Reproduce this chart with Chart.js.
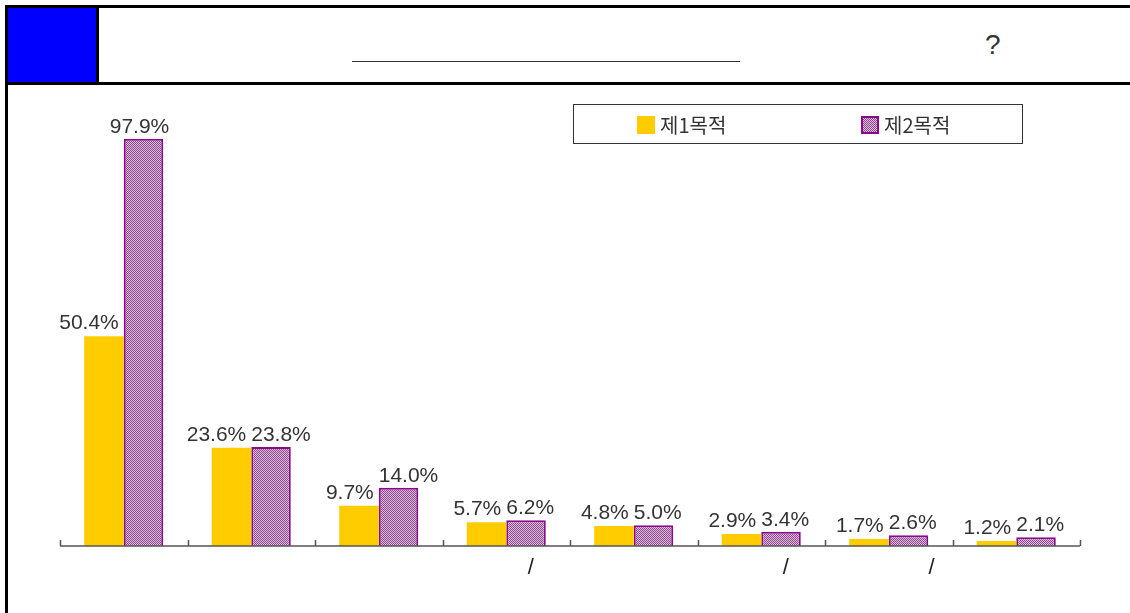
<!DOCTYPE html>
<html>
<head>
<meta charset="utf-8">
<script src="https://cdn.jsdelivr.net/npm/chart.js@4.4.0/dist/chart.umd.min.js"></script>
<style>
  html, body { margin: 0; padding: 0; background: #fff; width: 1130px; height: 613px; overflow: hidden; }
  .frame { position: absolute; left: 5px; top: 5px; width: 1150px; height: 640px; border: 3px solid #000; box-sizing: border-box; }
  .head { position: absolute; left: 5px; top: 5px; width: 1150px; height: 80px; border: 3px solid #000; box-sizing: border-box; }
  .blue { position: absolute; left: 8px; top: 8px; width: 88px; height: 74px; background: #0000ff; border-right: 3px solid #000; }
  .uline { position: absolute; left: 352px; top: 61px; width: 388px; border-top: 1px solid #333; }
  .q { position: absolute; left: 985px; top: 29px; font: 28px "Liberation Sans"; color: #333; }
  #wrap { position: absolute; left: 0; top: 0; width: 1130px; height: 613px; }
</style>
</head>
<body>
<div class="frame"></div>
<div class="head"></div>
<div class="blue"></div>
<div class="uline"></div>
<div class="q">?</div>
<div id="wrap"><canvas id="purposeChart" width="1130" height="613"></canvas></div>

<script>
// data
const categories = ['', '', '', '        /', '', '        /', '              /', ''];
const firstPurpose = [50.4, 23.6, 9.7, 5.7, 4.8, 2.9, 1.7, 1.2];
const secondPurpose = [97.9, 23.8, 14.0, 6.2, 5.0, 3.4, 2.6, 2.1];
const seriesNames = ['제1목적', '제2목적'];

const YELLOW = '#ffcc00';
const PURPLE = '#8b0a8b';

// fine purple / grey dither like the original fill
function hatchPattern() {
  const c = document.createElement('canvas');
  c.width = 4; c.height = 4;
  const g = c.getContext('2d');
  g.fillStyle = '#cfc8cf';
  g.fillRect(0, 0, 4, 4);
  g.fillStyle = '#9a3d9a';
  for (let y = 0; y < 4; y++) {
    for (let x = 0; x < 4; x++) {
      if ((x + y) % 2 === 0) g.fillRect(x, y, 1, 1);
    }
  }
  return g.createPattern(c, 'repeat');
}
const hatch = hatchPattern();

// axis line + upward ticks between categories
const axisPlugin = {
  id: 'axisLine',
  afterDatasetsDraw(chart) {
    const { ctx, chartArea, scales } = chart;
    const xs = scales.x;
    const y = chartArea.bottom;
    ctx.save();
    ctx.strokeStyle = '#555';
    ctx.lineWidth = 1.5;
    ctx.beginPath();
    ctx.moveTo(xs.left, y);
    ctx.lineTo(xs.right, y);
    for (let i = 0; i <= categories.length; i++) {
      const x = Math.round(xs.getPixelForValue(i - 0.5)) + 0.5;
      ctx.moveTo(x, y);
      ctx.lineTo(x, y - 6);
    }
    ctx.stroke();
    ctx.restore();
  }
};

// value labels above bars
const labelPlugin = {
  id: 'barLabels',
  afterDatasetsDraw(chart) {
    const { ctx } = chart;
    const m0 = chart.getDatasetMeta(0);
    const m1 = chart.getDatasetMeta(1);
    ctx.save();
    ctx.font = '21px "Liberation Sans"';
    ctx.fillStyle = '#333';
    ctx.textBaseline = 'alphabetic';
    m0.data.forEach((bar, i) => {
      const other = m1.data[i];
      const y0 = bar.y - 7;
      const y1 = other.y - 6;
      ctx.textAlign = 'right';
      ctx.fillText(firstPurpose[i].toFixed(1) + '%', bar.x + bar.width / 2 - 5, y0);
      if (Math.abs(y0 - y1) < 45) {
        ctx.textAlign = 'left';
        ctx.fillText(secondPurpose[i].toFixed(1) + '%', other.x - other.width / 2, y1);
      } else {
        ctx.textAlign = 'center';
        ctx.fillText(secondPurpose[i].toFixed(1) + '%', other.x - 4, y1);
      }
    });
    ctx.restore();
  }
};

// boxed legend at top right
const legendPlugin = {
  id: 'boxLegend',
  afterDraw(chart) {
    const { ctx } = chart;
    ctx.save();
    ctx.strokeStyle = '#333';
    ctx.lineWidth = 1;
    ctx.strokeRect(573.5, 104.5, 449, 39);
    const items = [
      { x: 637, fill: YELLOW, border: null },
      { x: 861, fill: hatch, border: PURPLE }
    ];
    ctx.font = '20px "Noto Sans CJK KR"';
    ctx.textBaseline = 'middle';
    ctx.textAlign = 'left';
    items.forEach((it, i) => {
      ctx.fillStyle = it.fill;
      ctx.fillRect(it.x, 116, 18, 18);
      if (it.border) {
        ctx.strokeStyle = it.border;
        ctx.lineWidth = 2;
        ctx.strokeRect(it.x + 1, 117, 16, 16);
      }
      ctx.fillStyle = '#333';
      ctx.fillText(chart.data.datasets[i].label, it.x + 23, 125);
    });
    ctx.restore();
  }
};

new Chart(document.getElementById('purposeChart').getContext('2d'), {
  type: 'bar',
  data: {
    labels: categories,
    datasets: [
      {
        label: seriesNames[0],
        data: firstPurpose,
        backgroundColor: YELLOW,
        borderWidth: 0,
        categoryPercentage: 0.62,
        barPercentage: 1.0
      },
      {
        label: seriesNames[1],
        data: secondPurpose,
        backgroundColor: hatch,
        borderColor: PURPLE,
        borderWidth: 2,
        categoryPercentage: 0.62,
        barPercentage: 1.0
      }
    ]
  },
  options: {
    responsive: false,
    devicePixelRatio: 1,
    animation: false,
    layout: { padding: { left: 60, right: 50, top: 130, bottom: 0 } },
    scales: {
      x: {
        offset: true,
        grid: { display: false },
        border: { display: false },
        ticks: {
          color: '#222',
          font: { family: 'Liberation Sans', size: 22 },
          padding: 1,
          maxRotation: 0,
          autoSkip: false
        },
        afterFit: (s) => { s.height = 67; }
      },
      y: {
        display: false,
        min: 0,
        max: 100
      }
    },
    plugins: {
      legend: { display: false },
      tooltip: { enabled: false }
    }
  },
  plugins: [axisPlugin, labelPlugin, legendPlugin]
});
</script>
</body>
</html>
